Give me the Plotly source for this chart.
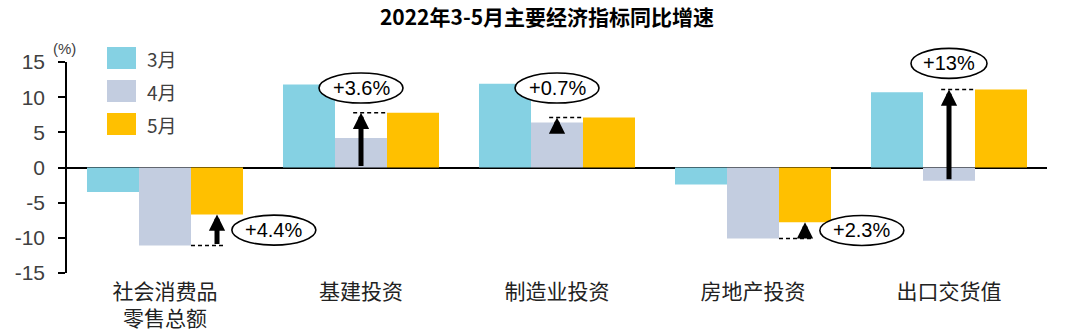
import plotly.graph_objects as go

# ---------------- data ----------------
categories = ["社会消费品<br>零售总额", "基建投资", "制造业投资", "房地产投资", "出口交货值"]
series_names = ["3月", "4月", "5月"]
mar_values = [-3.5, 11.8, 11.9, -2.4, 10.7]
apr_values = [-11.1, 4.2, 6.4, -10.1, -1.9]
may_values = [-6.7, 7.8, 7.1, -7.8, 11.1]
change_labels = ["+4.4%", "+3.6%", "+0.7%", "+2.3%", "+13%"]
arrow_start = [-11.1, 0.0, 6.4, -10.1, -1.9]
y_tickvals = [-15, -10, -5, 0, 5, 10, 15]
y_ticktext = ["-15", "-10", "-5", "0", "5", "10", "15"]
title_text = "2022年3-5月主要经济指标同比增速"

# ---------------- style ----------------
colors = ["#85D1E3", "#C3CDE0", "#FFC000"]
W, H = 1080, 335
L, R, T, B = 67, 1047, 62, 273
YMIN, YMAX = -15, 15
BARGAP = 0.204
HEAD_UNITS = 2.2  # min arrow length (data units) so the head is always drawn
CJK = "Noto Sans CJK SC"
LAT = "Liberation Sans, Arial"
TXT = "#404040"

def px_x(p):
    return (p - L) / (R - L)

def px_y(p):
    return (B - p) / (B - T)

def data_to_paper_y(v):
    return (v - YMIN) / (YMAX - YMIN)

xs = list(range(len(categories)))
fig = go.Figure()
for name, vals, col in zip(series_names, [mar_values, apr_values, may_values], colors):
    fig.add_trace(go.Bar(x=xs, y=vals, name=name, marker=dict(color=col, line=dict(width=0)),
                         showlegend=False))

bw = (1 - BARGAP) / 3
shapes = []
annotations = []

badge_y_pos = [None, 11.3, 11.3, None, 14.8]

for i in xs:
    apr, may = apr_values[i], may_values[i]
    neg = may < 0
    cx = i + (bw if neg else 0.0)
    start = min(arrow_start[i], may - HEAD_UNITS)
    annotations.append(dict(x=cx, y=may, ax=cx, ay=start, xref="x", yref="y",
                            axref="x", ayref="y", text="", showarrow=True, arrowhead=2,
                            arrowsize=0.65, arrowwidth=5, arrowcolor="black",
                            standoff=0, startstandoff=0))
    dash = dict(color="black", width=1.5, dash="4px,3px")
    if neg:
        shapes.append(dict(type="line", xref="x", yref="y", x0=cx - bw / 2, x1=cx + 0.045,
                           y0=apr, y1=apr, line=dash))
        ex, ey = cx + 0.29, (apr + may) / 2
    else:
        shapes.append(dict(type="line", xref="x", yref="y", x0=cx - 0.04, x1=cx + bw / 2,
                           y0=may, y1=may, line=dash))
        ex, ey = cx, badge_y_pos[i]
    hw = 38 if len(change_labels[i]) < 5 else 42
    hh = 15
    shapes.append(dict(type="circle", xref="x", yref="paper", xsizemode="pixel", ysizemode="pixel",
                       xanchor=ex, yanchor=data_to_paper_y(ey), x0=-hw, x1=hw, y0=-hh, y1=hh,
                       line=dict(color="black", width=1.6), fillcolor="white", layer="above"))
    annotations.append(dict(x=ex, y=data_to_paper_y(ey), xref="x", yref="paper",
                            text=change_labels[i], showarrow=False,
                            font=dict(family=LAT, size=20, color="black"),
                            xanchor="center", yanchor="middle"))

# manual legend
for k, (name, col) in enumerate(zip(series_names, colors)):
    top = 47 + 33 * k
    shapes.append(dict(type="rect", xref="paper", yref="paper", x0=px_x(107), x1=px_x(136),
                       y0=px_y(top + 22), y1=px_y(top), fillcolor=col, line=dict(width=0)))
    annotations.append(dict(x=px_x(145), y=px_y(top + 11), xref="paper", yref="paper",
                            text=name, showarrow=False, xanchor="left", yanchor="middle",
                            font=dict(family=CJK, size=19, color=TXT)))

annotations.append(dict(x=px_x(64), y=px_y(48), xref="paper", yref="paper", text="(%)",
                        showarrow=False, xanchor="center", yanchor="middle",
                        font=dict(family=LAT, size=15, color=TXT)))

fig.update_layout(
    width=W, height=H,
    margin=dict(l=L, r=W - R, t=T, b=H - B, pad=0),
    paper_bgcolor="white", plot_bgcolor="white",
    barmode="group", bargap=BARGAP, bargroupgap=0,
    title=dict(text="<b>" + title_text + "</b>", x=547 / W, xanchor="center",
               y=1 - 18 / H, yanchor="middle", yref="container",
               font=dict(family=CJK, size=21, color="black")),
    shapes=shapes, annotations=annotations,
    xaxis=dict(range=[-0.5, len(categories) - 0.5], tickvals=xs, ticktext=categories,
               showline=False, showgrid=False, zeroline=False, ticks="", automargin=False,
               ticklabelstandoff=4,
               tickfont=dict(family=CJK, size=21, color="#222222")),
    yaxis=dict(range=[YMIN, YMAX], tickvals=y_tickvals, ticktext=y_ticktext, automargin=False,
               showline=True, linecolor="black", linewidth=1.5, ticks="outside",
               ticklen=7, tickwidth=1.5, tickcolor="black", showgrid=False,
               ticklabelstandoff=9,
               zeroline=True, zerolinecolor="black", zerolinewidth=1.5,
               tickfont=dict(family=LAT, size=21, color=TXT)),
)

fig.write_html("out.html")
